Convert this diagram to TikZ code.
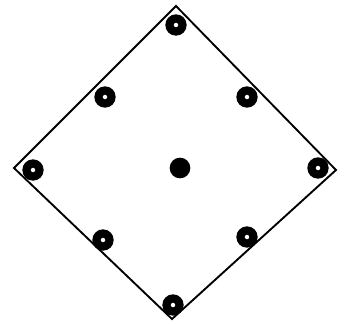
\documentclass[tikz,border=0pt]{standalone}
\usepackage{tikz}
\usetikzlibrary{positioning}

\tikzset{
	spot/.style={circle, draw=black, line width=7pt, minimum size=0.39cm, inner sep=0pt},
	hub/.style={circle, fill=black, minimum size=0.62cm, inner sep=0pt},
	edge/.style={line width=1.6pt, line join=miter}
}

\begin{document}
\begin{tikzpicture}[x=0.03cm, y=-0.03cm]
	\useasboundingbox (0,0) rectangle (345,323);
	
	% Corners of the square
	\coordinate (top) at (176,6);
	\coordinate (right) at (336,170);
	\coordinate (bottom) at (172,319);
	\coordinate (left) at (14,168);
	
	% Outline
	\draw[edge] (top) -- (right) -- (bottom) -- (left) -- cycle;
	
	% Spots at corners, edge midpoints and centre
	\node[spot] (s-top) at (176,25) {};
	\node[spot] (s-right) at (318,168) {};
	\node[spot] (s-bottom) at (173,305) {};
	\node[spot] (s-left) at (33,170) {};
	\node[spot] (s-ul) at (105,97) {};
	\node[spot] (s-ur) at (247,97) {};
	\node[spot] (s-ll) at (103,240) {};
	\node[spot] (s-lr) at (247,237) {};
	\node[hub] (s-centre) at (180,168) {};
\end{tikzpicture}
\end{document}
